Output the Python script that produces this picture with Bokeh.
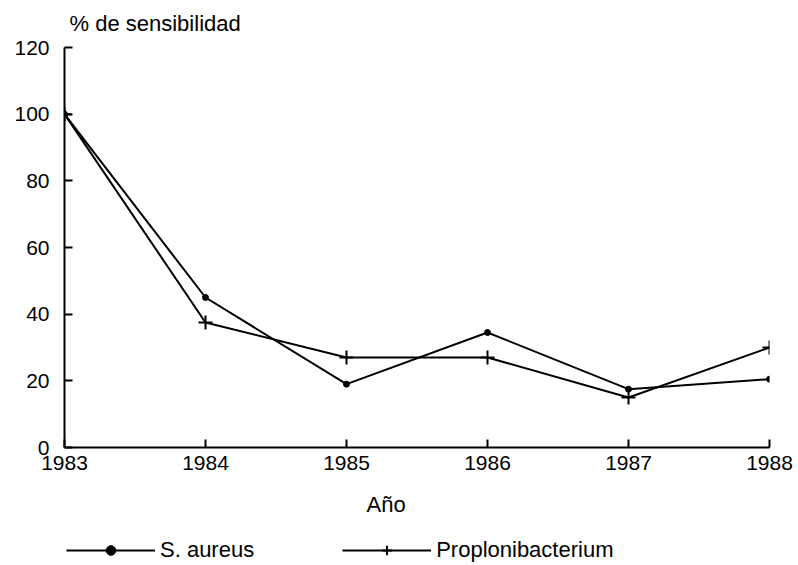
from bokeh.plotting import figure
from bokeh.models import Range1d, FixedTicker, Legend, LegendItem, Title
from bokeh.layouts import column
from bokeh.embed import file_html
from bokeh.resources import INLINE

years = [1983, 1984, 1985, 1986, 1987, 1988]
s_aureus = [100, 45, 19, 34.5, 17.5, 20.5]
propioni = [100, 37.5, 27, 27, 15, 30]
y_ticks = [0, 20, 40, 60, 80, 100, 120]
series_names = ["S. aureus", "Proplonibacterium"]

FONT = "Liberation Sans"
FS = "21px"
FS_T = "22px"

p = figure(width=798, height=536, output_backend="svg", toolbar_location=None,
           x_range=Range1d(1983, 1988), y_range=Range1d(0, 120),
           min_border_left=64, min_border_right=29, min_border_top=47, min_border_bottom=89)
p.outline_line_color = None
p.grid.visible = False

p.title = Title(text="% de sensibilidad", align="left", offset=5, standoff=20,
                vertical_align="top",
                text_font=FONT, text_font_size=FS_T, text_font_style="normal",
                text_color="black")

for ax in (p.xaxis[0], p.yaxis[0]):
    ax.axis_line_color = "black"
    ax.axis_line_width = 2
    ax.major_tick_in = 8
    ax.major_tick_out = 0
    ax.major_tick_line_width = 2
    ax.major_tick_line_color = "black"
    ax.minor_tick_line_color = None
    ax.major_label_text_font = FONT
    ax.major_label_text_font_size = FS
    ax.major_label_text_color = "black"

p.xaxis[0].ticker = FixedTicker(ticks=years)
p.yaxis[0].ticker = FixedTicker(ticks=y_ticks)
p.xaxis[0].major_label_standoff = 8
p.yaxis[0].major_label_standoff = 15

p.line(years, s_aureus, line_color="black", line_width=2)
p.scatter(years, s_aureus, marker="circle", size=6, color="black")
p.line(years, propioni, line_color="black", line_width=2)
p.scatter(years, propioni, marker="cross", size=14, line_color="black", line_width=2)

p.add_layout(Title(text="Año", align="left", offset=302, standoff=34,
                   text_font=FONT, text_font_size=FS_T, text_font_style="normal",
                   text_color="black"), "below")

# legend strip (its glyphs fall outside its own visible range; only the legend shows)
p2 = figure(width=798, height=29, output_backend="svg", toolbar_location=None,
            x_range=Range1d(0, 1), y_range=Range1d(0, 1), min_border=0,
            x_axis_type=None, y_axis_type=None)
p2.outline_line_color = None
p2.grid.visible = False
g1 = p2.line(years, s_aureus, line_color="black", line_width=2)
s1 = p2.scatter(years, s_aureus, marker="circle", size=5, color="black")
g2 = p2.line(years, propioni, line_color="black", line_width=2)
s2 = p2.scatter(years, propioni, marker="cross", size=14, line_color="black", line_width=2)

legend = Legend(items=[LegendItem(label=series_names[0], renderers=[g1, s1]),
                       LegendItem(label=series_names[1], renderers=[g2, s2])],
                orientation="horizontal", location=(2, 2),
                glyph_width=89, glyph_height=24, label_height=24,
                label_standoff=5, spacing=88, padding=0, margin=0,
                label_text_font=FONT, label_text_font_size=FS_T,
                label_text_color="black",
                border_line_color=None, background_fill_alpha=0)
p2.add_layout(legend, "center")

layout = column(p, p2, spacing=0)
open("out.html", "w").write(file_html(layout, INLINE))
